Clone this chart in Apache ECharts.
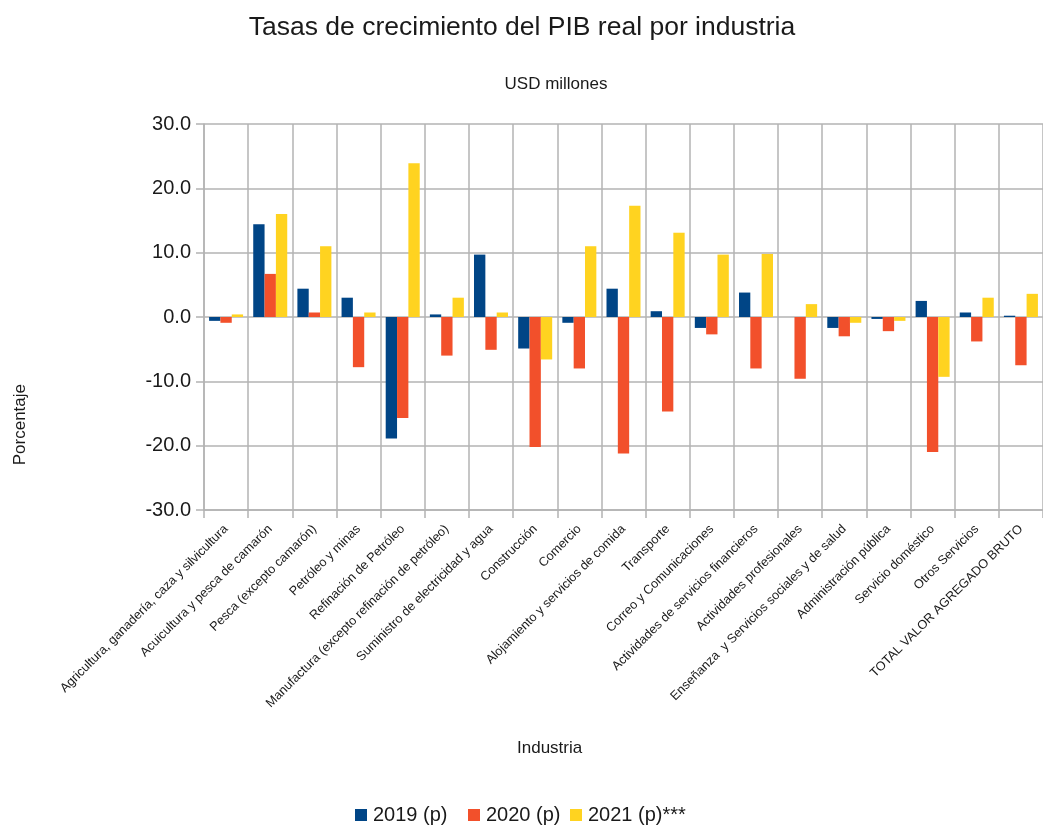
<!DOCTYPE html>
<html>
<head>
<meta charset="utf-8">
<script src="https://cdn.jsdelivr.net/npm/echarts@6/dist/echarts.min.js"></script>
<style>
  html, body { margin: 0; padding: 0; background: #fff; }
  #chart { width: 1043px; height: 828px; }
</style>
</head>
<body>
<div id="chart"></div>
<script>
// Industries (x-axis categories)
const industries = [
  'Agricultura, ganadería, caza y silvicultura',
  'Acuicultura y pesca de camarón',
  'Pesca (excepto camarón)',
  'Petróleo y minas',
  'Refinación de Petróleo',
  'Manufactura (excepto refinación de petróleo)',
  'Suministro de electricidad y agua',
  'Construcción',
  'Comercio',
  'Alojamiento y servicios de comida',
  'Transporte',
  'Correo y Comunicaciones',
  'Actividades de servicios financieros',
  'Actividades profesionales',
  'Enseñanza  y Servicios sociales y de salud',
  'Administración pública',
  'Servicio doméstico',
  'Otros Servicios',
  'TOTAL VALOR AGREGADO BRUTO'
];

// Growth rates (%) per year
const seriesNames = ['2019 (p)', '2020 (p)', '2021 (p)***'];
const values2019 = [-0.6, 14.4, 4.4, 3.0, -18.9, 0.4, 9.7, -4.9, -0.9, 4.4, 0.9, -1.7, 3.8, 0.0, -1.7, -0.3, 2.5, 0.7, 0.2];
const values2020 = [-0.9, 6.7, 0.7, -7.8, -15.7, -6.0, -5.1, -20.2, -8.0, -21.2, -14.7, -2.7, -8.0, -9.6, -3.0, -2.2, -21.0, -3.8, -7.5];
const values2021 = [0.4, 16.0, 11.0, 0.7, 23.9, 3.0, 0.7, -6.6, 11.0, 17.3, 13.1, 9.7, 9.8, 2.0, -0.9, -0.6, -9.3, 3.0, 3.6];

// Y-axis range
const yMin = -30, yMax = 30, yStep = 10;

const colors = ['#004586', '#f2502b', '#ffd320'];
const gridColor = '#b3b3b3';
const textColor = '#1a1a1a';
const fontFamily = '"Liberation Sans", Arial, sans-serif';

const chart = echarts.init(document.getElementById('chart'));

const legendLefts = [355, 468, 570];

chart.setOption({
  animation: false,
  backgroundColor: '#ffffff',
  color: colors,
  textStyle: { fontFamily: fontFamily, color: textColor },
  title: [
    {
      text: 'Tasas de crecimiento del PIB real por industria',
      left: 517, top: 9, textAlign: 'center',
      textStyle: { fontSize: 26.5, fontWeight: 'normal', color: textColor, fontFamily: fontFamily }
    },
    {
      text: 'USD millones',
      left: 551, top: 71, textAlign: 'center',
      textStyle: { fontSize: 17, fontWeight: 'normal', color: textColor, fontFamily: fontFamily }
    }
  ],
  legend: seriesNames.map((name, i) => ({
    data: [name],
    left: legendLefts[i],
    top: 805,
    padding: 0,
    icon: 'rect',
    itemWidth: 12,
    itemHeight: 12,
    itemGap: 6,
    selectedMode: false,
    textStyle: { fontSize: 20, color: textColor, fontFamily: fontFamily, padding: [0, 0, 0, 1] }
  })),
  graphic: [
    {
      type: 'text', left: 12, top: 384,
      rotation: Math.PI / 2,
      style: { text: 'Porcentaje', fontSize: 17, fill: textColor, fontFamily: fontFamily }
    },
    {
      type: 'text', left: 517, top: 740,
      style: { text: 'Industria', fontSize: 17, fill: textColor, fontFamily: fontFamily }
    }
  ],
  grid: { left: 204, top: 124, width: 842, height: 386, containLabel: false },
  xAxis: {
    type: 'category',
    data: industries,
    boundaryGap: true,
    axisLine: { show: true, onZero: false, lineStyle: { color: gridColor, width: 1.5 } },
    axisTick: { show: true, length: 8, alignWithLabel: false, lineStyle: { color: gridColor, width: 1.5 } },
    splitLine: { show: true, lineStyle: { color: gridColor, width: 1.5 } },
    axisLabel: {
      interval: 0, rotate: 45, margin: 17,
      fontSize: 12.7, color: textColor, fontFamily: fontFamily
    }
  },
  yAxis: {
    type: 'value',
    min: yMin, max: yMax, interval: yStep,
    axisLine: { show: true, lineStyle: { color: gridColor, width: 1.5 } },
    axisTick: { show: true, length: 8, lineStyle: { color: gridColor, width: 1.5 } },
    splitLine: { show: true, lineStyle: { color: gridColor, width: 1.5 } },
    axisLabel: {
      margin: 13, fontSize: 20, color: textColor, fontFamily: fontFamily,
      formatter: v => v.toFixed(1)
    }
  },
  series: [values2019, values2020, values2021].map((vals, i) => ({
    name: seriesNames[i],
    type: 'bar',
    data: vals,
    barGap: '0%',
    barCategoryGap: '23%',
    itemStyle: { color: colors[i] }
  }))
});
</script>
</body>
</html>
